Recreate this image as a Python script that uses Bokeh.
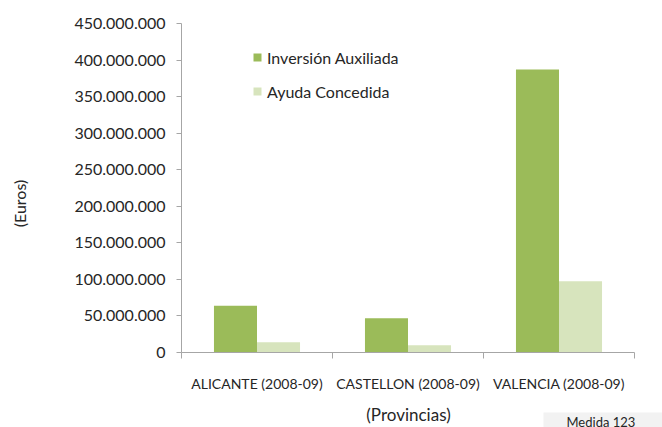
import math
from bokeh.plotting import figure
from bokeh.layouts import column, row
from bokeh.models import (ColumnDataSource, Range1d, FixedTicker, Label, Legend,
                          LegendItem, BoxAnnotation)
from bokeh.embed import file_html
from bokeh.resources import INLINE

categories = ["ALICANTE (2008-09)", "CASTELLON (2008-09)", "VALENCIA (2008-09)"]
inversion = [64_000_000, 47_000_000, 387_000_000]
ayuda = [14_000_000, 10_000_000, 97_500_000]
y_ticks = [0, 50_000_000, 100_000_000, 150_000_000, 200_000_000, 250_000_000,
           300_000_000, 350_000_000, 400_000_000, 450_000_000]

FONT = "Lato"
TXT = "#262626"
AX = "#a6a6a6"
GREEN = "#9BBB59"
LIGHT = "#D7E4BD"

idx = list(range(len(categories)))
bw = 0.285
src = ColumnDataSource(dict(
    xi=[i + 0.5 - bw / 2 for i in idx],
    xa=[i + 0.5 + bw / 2 for i in idx],
    inv=inversion, ayu=ayuda))


def blank(w, h):
    f = figure(width=w, height=h, output_backend="svg", toolbar_location=None,
               x_range=Range1d(0, w), y_range=Range1d(0, h),
               x_axis_location=None, y_axis_location=None,
               min_border=0)
    f.outline_line_color = None
    f.grid.visible = False
    return f


# left strip with the y-axis title (its frame is aligned with the chart's frame)
p0 = blank(40, 400)
p0.add_layout(Label(x=19, y=149, x_units="screen", y_units="screen", text="(Euros)",
                    angle=math.pi / 2, text_font=FONT, text_font_size="16px",
                    text_color=TXT, text_align="center", text_baseline="middle"))

# main chart
p = figure(width=622, height=400, output_backend="svg", toolbar_location=None,
           x_range=Range1d(0, 3), y_range=Range1d(0, 450_000_000),
           min_border_left=141, min_border_right=28, min_border_top=23,
           min_border_bottom=48)
p.outline_line_color = None
p.xgrid.visible = False
p.ygrid.visible = False

r1 = p.vbar(x="xi", top="inv", width=bw, source=src, fill_color=GREEN, line_color=None)
r2 = p.vbar(x="xa", top="ayu", width=bw, source=src, fill_color=LIGHT, line_color=None)

ya = p.yaxis[0]
ya.ticker = FixedTicker(ticks=y_ticks, minor_ticks=[])
ya.major_label_overrides = {v: f"{v:,}".replace(",", ".") for v in y_ticks}
ya.axis_line_color = AX
ya.major_tick_line_color = AX
ya.major_tick_out = 5
ya.major_tick_in = 0
ya.major_label_standoff = 11
ya.major_label_text_font = FONT
ya.major_label_text_font_size = "16px"
ya.major_label_text_color = TXT

xa = p.xaxis[0]
xa.ticker = FixedTicker(ticks=[i + 0.5 for i in idx], minor_ticks=[0, 1, 2, 3])
xa.major_label_overrides = {i + 0.5: c for i, c in zip(idx, categories)}
xa.axis_line_color = AX
xa.major_tick_line_color = None
xa.major_tick_out = 0
xa.minor_tick_line_color = AX
xa.minor_tick_out = 6
xa.minor_tick_in = 0
xa.major_label_standoff = 16
xa.major_label_text_font = FONT
xa.major_label_text_font_size = "14px"
xa.major_label_text_color = TXT

legend = Legend(items=[LegendItem(label="Inversión Auxiliada", renderers=[r1]),
                       LegendItem(label="Ayuda Concedida", renderers=[r2])],
                location=(71, 251), padding=0, margin=0, border_line_color=None,
                background_fill_alpha=0, glyph_width=10, glyph_height=10,
                label_height=20, spacing=14, label_standoff=5,
                label_text_font=FONT, label_text_font_size="16px",
                label_text_color=TXT)
p.add_layout(legend)

# bottom strip with the x-axis title and the note box
p2 = blank(662, 27)
p2.add_layout(BoxAnnotation(left=543, right=662, bottom=0, top=15,
                            fill_color="#f2f2f2", fill_alpha=1, line_color=None))
p2.add_layout(Label(x=408, y=13, x_units="screen", y_units="screen", text="(Provincias)",
                    text_font=FONT, text_font_size="17px", text_color=TXT,
                    text_align="center", text_baseline="middle"))
p2.add_layout(Label(x=566, y=6, x_units="screen", y_units="screen", text="Medida 123",
                    text_font=FONT, text_font_size="13px", text_color=TXT,
                    text_align="left", text_baseline="alphabetic"))

layout = column(row(p0, p, spacing=0), p2, spacing=0)
open("out.html", "w").write(file_html(layout, INLINE))
